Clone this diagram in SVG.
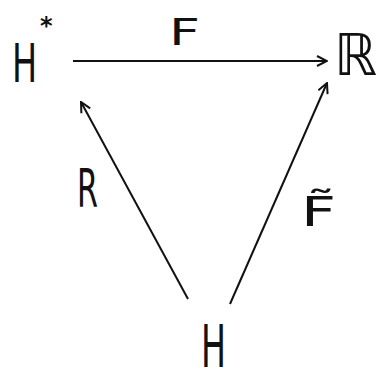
<svg xmlns="http://www.w3.org/2000/svg" width="390" height="385" viewBox="0 0 390 385">
<style>
.lbl{font-family:"DejaVu Sans","Liberation Sans",sans-serif;fill:#111}
.edge{stroke:#111;stroke-width:2;fill:none;marker-end:url(#ah)}
</style>
<defs>
<marker id="ah" viewBox="0 0 12 12" refX="11" refY="6" markerWidth="12" markerHeight="12" markerUnits="userSpaceOnUse" orient="auto">
<path d="M1,1 L11,6 L1,11" fill="none" stroke="#111" stroke-width="2"/>
</marker>
</defs>
<rect width="390" height="385" fill="#fff"/>
<g id="nodeHstar">
<text class="lbl" font-size="54" transform="translate(12,82) scale(0.62,1)">H</text>
<text class="lbl" x="40" y="34" font-size="24" font-weight="bold">*</text>
</g>
<g id="nodeR">
<text class="lbl" x="334" y="75" font-size="58" textLength="43" lengthAdjust="spacingAndGlyphs">ℝ</text>
</g>
<g id="nodeH">
<text class="lbl" x="201" y="367" font-size="58" textLength="25" lengthAdjust="spacingAndGlyphs">H</text>
</g>
<g id="connectors">
<line class="edge" x1="73" y1="61" x2="327" y2="61"/>
<line class="edge" x1="188" y1="299" x2="81" y2="102"/>
<line class="edge" x1="230" y1="304" x2="327" y2="83"/>
<text class="lbl" x="169" y="45" font-size="38" textLength="31" lengthAdjust="spacingAndGlyphs">F</text>
<text class="lbl" x="77" y="207" font-size="54" textLength="21" lengthAdjust="spacingAndGlyphs">R</text>
<text class="lbl" x="301" y="226" font-size="40" textLength="35" lengthAdjust="spacingAndGlyphs">F̃</text>
</g>
</svg>
